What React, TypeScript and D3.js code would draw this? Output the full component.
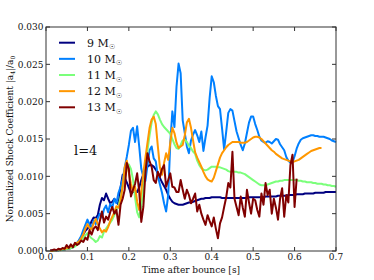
import React from 'react'
import * as d3 from 'd3'

// sample grid of the simulations: first sample and spacing in seconds
const T0 = 0.01
const DT = 0.005

const xTicks = [0, 0.1, 0.2, 0.3, 0.4, 0.5, 0.6, 0.7]
const yTicks = [0, 0.005, 0.01, 0.015, 0.02, 0.025, 0.03]
const labels = ['9', '10', '11', '12', '13']
const colors = ['#000080', '#0080ff', '#7bff7b', '#ff9700', '#800000']

const m9 = [
	0, 0, 0.0001, 0.0001, 0.0001, 0.0002, 0.0002, 0.0002, 0.0003, 0.0003,
	0.0004, 0.0005, 0.0007, 0.001, 0.0014, 0.0018, 0.0022, 0.0027, 0.003, 0.0033,
	0.004, 0.0045, 0.0044, 0.0048, 0.0062, 0.0071, 0.0068, 0.0077, 0.007, 0.0064,
	0.0066, 0.007, 0.0066, 0.0062, 0.0085, 0.0102, 0.0098, 0.0092, 0.0085, 0.0077,
	0.0079, 0.008, 0.0079, 0.0085, 0.0095, 0.0103, 0.0109, 0.0113, 0.0115, 0.0115,
	0.0113, 0.0109, 0.0104, 0.0098, 0.0092, 0.0087, 0.0082, 0.0075, 0.007, 0.0066,
	0.0064, 0.0063, 0.0062, 0.0062, 0.0062, 0.0063, 0.0064, 0.0065, 0.0065, 0.0066,
	0.0067, 0.0068, 0.0069, 0.007, 0.007, 0.0071, 0.0071, 0.0071, 0.0072, 0.0072,
	0.0072, 0.0072, 0.0072, 0.0071, 0.0071, 0.0071, 0.0071, 0.0071, 0.0071, 0.0071,
	0.0071, 0.0071, 0.0071, 0.0071, 0.0071, 0.0071, 0.0072, 0.0072, 0.0072, 0.0072,
	0.0072, 0.0072, 0.0072, 0.0072, 0.0073, 0.0073, 0.0073, 0.0073, 0.0073, 0.0073,
	0.0074, 0.0074, 0.0074, 0.0074, 0.0074, 0.0075, 0.0075, 0.0075, 0.0075, 0.0076,
	0.0076, 0.0076, 0.0076, 0.0077, 0.0077, 0.0077, 0.0077, 0.0077, 0.0078, 0.0078,
	0.0078, 0.0078, 0.0078, 0.0079, 0.0079, 0.0079, 0.0079, 0.0079, 0.0079,
]

const m10 = [
	0, 0.0001, 0.0001, 0.0001, 0.0001, 0.0002, 0.0002, 0.0003, 0.0004, 0.0004,
	0.0005, 0.0006, 0.0008, 0.0011, 0.0015, 0.002, 0.0028, 0.0035, 0.0042, 0.0036,
	0.003, 0.0041, 0.0036, 0.0044, 0.005, 0.0045, 0.0056, 0.0061, 0.0052, 0.0063,
	0.0058, 0.007, 0.0064, 0.0078, 0.0086, 0.0096, 0.0112, 0.0126, 0.0142, 0.0161,
	0.0165, 0.0146, 0.0167, 0.014, 0.011, 0.0099, 0.0094, 0.0115, 0.0135, 0.014,
	0.0124, 0.012, 0.01, 0.0089, 0.0078, 0.0064, 0.0053, 0.0075, 0.0145, 0.0187,
	0.0166, 0.022, 0.0251, 0.0238, 0.0175, 0.0158, 0.014, 0.0131, 0.0148, 0.0156,
	0.0162, 0.0155, 0.0146, 0.016, 0.0134, 0.0152, 0.0168, 0.0205, 0.0234, 0.0226,
	0.0208, 0.0194, 0.019, 0.0164, 0.0136, 0.016, 0.0185, 0.019, 0.0188, 0.0174,
	0.016, 0.0151, 0.0142, 0.0135, 0.0144, 0.0158, 0.0172, 0.018, 0.018, 0.017,
	0.0162, 0.0153, 0.0148, 0.0146, 0.0145, 0.0147, 0.0146, 0.0144, 0.0147, 0.015,
	0.0149, 0.0143, 0.0139, 0.0135, 0.0126, 0.0121, 0.0118, 0.0119, 0.0127, 0.0137,
	0.0144, 0.0149, 0.0151, 0.0152, 0.0153, 0.0154, 0.0155, 0.0155, 0.0154, 0.0154,
	0.0153, 0.0153, 0.0153, 0.0152, 0.0151, 0.015, 0.0148, 0.0147, 0.0146,
]

const m11 = [
	0, 0, 0.0001, 0.0001, 0.0001, 0.0001, 0.0002, 0.0002, 0.0003, 0.0003,
	0.0004, 0.0005, 0.0006, 0.0008, 0.001, 0.0014, 0.0018, 0.0021, 0.0024, 0.002,
	0.0017, 0.0015, 0.0012, 0.0014, 0.002, 0.0018, 0.0026, 0.003, 0.0034, 0.0038,
	0.0042, 0.0048, 0.0055, 0.006, 0.0072, 0.0085, 0.0098, 0.011, 0.0116, 0.011,
	0.0096, 0.0072, 0.0052, 0.0045, 0.006, 0.0085, 0.011, 0.0135, 0.0155, 0.0172,
	0.0182, 0.0187, 0.0183, 0.0176, 0.017, 0.0166, 0.0163, 0.016, 0.0157, 0.015,
	0.0143, 0.0138, 0.0137, 0.0142, 0.0148, 0.0149, 0.0146, 0.0141, 0.0138, 0.0133,
	0.013, 0.0121, 0.0115, 0.0111, 0.0109, 0.0108, 0.0109, 0.0111, 0.0113, 0.0113,
	0.0113, 0.0112, 0.0112, 0.0111, 0.011, 0.0109, 0.0107, 0.0106, 0.0106, 0.0106,
	0.0106, 0.0105, 0.0105, 0.0104, 0.0103, 0.0101, 0.0099, 0.0097, 0.0095, 0.0093,
	0.0091, 0.0089, 0.0088, 0.0088, 0.0088, 0.0089, 0.009, 0.0091, 0.0092, 0.0093,
	0.0093, 0.0094, 0.0094, 0.0095, 0.0095, 0.0095, 0.0095, 0.0095, 0.0095, 0.0095,
	0.0094, 0.0094, 0.0093, 0.0093, 0.0092, 0.0092, 0.0092, 0.0091, 0.0091, 0.009,
	0.009, 0.009, 0.0089, 0.0089, 0.0088, 0.0088, 0.0087, 0.0087, 0.0086,
]

const m12 = [
	0, 0, 0.0001, 0.0001, 0.0002, 0.0002, 0.0003, 0.0003, 0.0004, 0.0005,
	0.0006, 0.0007, 0.0009, 0.0011, 0.0013, 0.0017, 0.0022, 0.003, 0.0036, 0.0031,
	0.0029, 0.0037, 0.0043, 0.0036, 0.003, 0.0025, 0.0028, 0.0026, 0.0032, 0.004,
	0.0046, 0.0052, 0.006, 0.0058, 0.0066, 0.0088, 0.0112, 0.0121, 0.0105, 0.009,
	0.008, 0.0086, 0.0066, 0.0055, 0.008, 0.0105, 0.0125, 0.0145, 0.0165, 0.0176,
	0.018, 0.017, 0.014, 0.0112, 0.0102, 0.0118, 0.0131, 0.0122, 0.0145, 0.0165,
	0.0158, 0.0145, 0.0138, 0.014, 0.0142, 0.0155, 0.0172, 0.0177, 0.0165, 0.0148,
	0.0132, 0.0125, 0.0119, 0.0113, 0.0106, 0.01, 0.0096, 0.0094, 0.0093, 0.0098,
	0.0107, 0.0116, 0.0125, 0.0131, 0.0135, 0.0139, 0.0142, 0.0144, 0.0146, 0.0146,
	0.0146, 0.0146, 0.0145, 0.0145, 0.0145, 0.0146, 0.0148, 0.015, 0.0152, 0.0153,
	0.0153, 0.0152, 0.015, 0.0147, 0.0144, 0.0141, 0.0138, 0.0135, 0.0133, 0.013,
	0.0128, 0.0126, 0.0124, 0.0123, 0.0122, 0.0121, 0.012, 0.012, 0.012, 0.0121,
	0.0122, 0.0124, 0.0126, 0.0128, 0.013, 0.0132, 0.0134, 0.0135, 0.0136, 0.0137,
	0.0138, 0.0138,
]

const m13 = [
	0.0001, 0.0001, 0.0002, 0.0001, 0.0003, 0.0002, 0.0004, 0.0003, 0.0008, 0.0004,
	0.0009, 0.0005, 0.0011, 0.0008, 0.001, 0.0014, 0.0012, 0.0018, 0.0015, 0.0028,
	0.0022, 0.003, 0.0033, 0.0028, 0.004, 0.0053, 0.0038, 0.0046, 0.0042, 0.0052,
	0.0059, 0.005, 0.0055, 0.0035, 0.0062, 0.007, 0.0082, 0.0118, 0.011, 0.0073,
	0.0082, 0.009, 0.0104, 0.008, 0.0039, 0.0059, 0.0105, 0.0131, 0.012, 0.0113,
	0.0095, 0.0091, 0.0106, 0.0099, 0.011, 0.0115, 0.0086, 0.0095, 0.0104, 0.0086,
	0.0085, 0.0079, 0.0079, 0.0095, 0.0082, 0.007, 0.0082, 0.0075, 0.0064, 0.007,
	0.0077, 0.0053, 0.0062, 0.005, 0.0042, 0.0035, 0.0048, 0.004, 0.0033, 0.0045,
	0.003, 0.0017, 0.0037, 0.0045, 0.0059, 0.0072, 0.0091, 0.0085, 0.0133, 0.007,
	0.0059, 0.0048, 0.0073, 0.0058, 0.0046, 0.0082, 0.0065, 0.005, 0.007, 0.0068,
	0.0055, 0.0046, 0.0077, 0.0062, 0.0091, 0.0075, 0.0082, 0.005, 0.007, 0.0058,
	0.0042, 0.007, 0.0084, 0.0046, 0.0075, 0.0065, 0.0115, 0.0129, 0.0059, 0.0097,
]

const series = [m9, m10, m11, m12, m13]

const W = 374
const H = 280
const L = 46
const R = 336
const T = 27
const B = 251
const FONT = '"DejaVu Serif", serif'
const AXIS = '#333'

export default function App() {
	const x = d3.scaleLinear().domain([0, 0.7]).range([L, R])
	const y = d3.scaleLinear().domain([0, 0.03]).range([B, T])
	const line = d3
		.line<number>()
		.x((_, i) => x(T0 + i * DT))
		.y((d) => y(d))

	const legendY = d3.scalePoint<number>().domain(d3.range(labels.length)).range([42.7, 107.3])

	return (
		<svg
			width={W}
			height={H}
			style={{ position: 'absolute', left: 0, top: 0, background: '#fff' }}
			fontFamily={FONT}
		>
			<rect x={0} y={0} width={W} height={H} fill="#fff" />

			{series.map((vals, k) => (
				<path
					key={k}
					d={line(vals) || ''}
					fill="none"
					stroke={colors[k]}
					strokeWidth={2}
					strokeLinejoin="round"
				/>
			))}

			{/* frame and inward ticks on all four sides */}
			<rect x={L} y={T} width={R - L} height={B - T} fill="none" stroke={AXIS} strokeWidth={1} />
			{xTicks.map((t) => (
				<g key={'x' + t}>
					<line x1={x(t)} x2={x(t)} y1={B} y2={B - 4} stroke={AXIS} />
					<line x1={x(t)} x2={x(t)} y1={T} y2={T + 4} stroke={AXIS} />
					<text x={x(t)} y={260} fontSize={9} textAnchor="middle" fill="#111">
						{t.toFixed(1)}
					</text>
				</g>
			))}
			{yTicks.map((t) => (
				<g key={'y' + t}>
					<line x1={L} x2={L + 4} y1={y(t)} y2={y(t)} stroke={AXIS} />
					<line x1={R} x2={R - 4} y1={y(t)} y2={y(t)} stroke={AXIS} />
					<text x={43.5} y={y(t) + 3.2} fontSize={9} textAnchor="end" fill="#111">
						{t.toFixed(3)}
					</text>
				</g>
			))}

			<text x={(L + R) / 2} y={273} fontSize={9} textAnchor="middle" fill="#111">
				Time after bounce [s]
			</text>
			<text
				transform={`translate(13,${(T + B) / 2}) rotate(-90)`}
				fontSize={9}
				textAnchor="middle"
				fill="#111"
			>
				Normalized Shock Coefficient |a
				<tspan fontSize={6} dy={2}>4</tspan>
				<tspan dy={-2}>|/a</tspan>
				<tspan fontSize={6} dy={2}>0</tspan>
			</text>

			<text x={74} y={155} fontSize={13} fill="#111">
				l=4
			</text>

			{labels.map((lab, k) => (
				<g key={lab}>
					<line
						x1={59}
						x2={75}
						y1={legendY(k)}
						y2={legendY(k)}
						stroke={colors[k]}
						strokeWidth={2}
					/>
					<text x={87} y={legendY(k)! + 4} fontSize={11} fill="#111">
						{lab} M
						<tspan fontSize={7} dy={2.5}>☉</tspan>
					</text>
				</g>
			))}
		</svg>
	)
}
